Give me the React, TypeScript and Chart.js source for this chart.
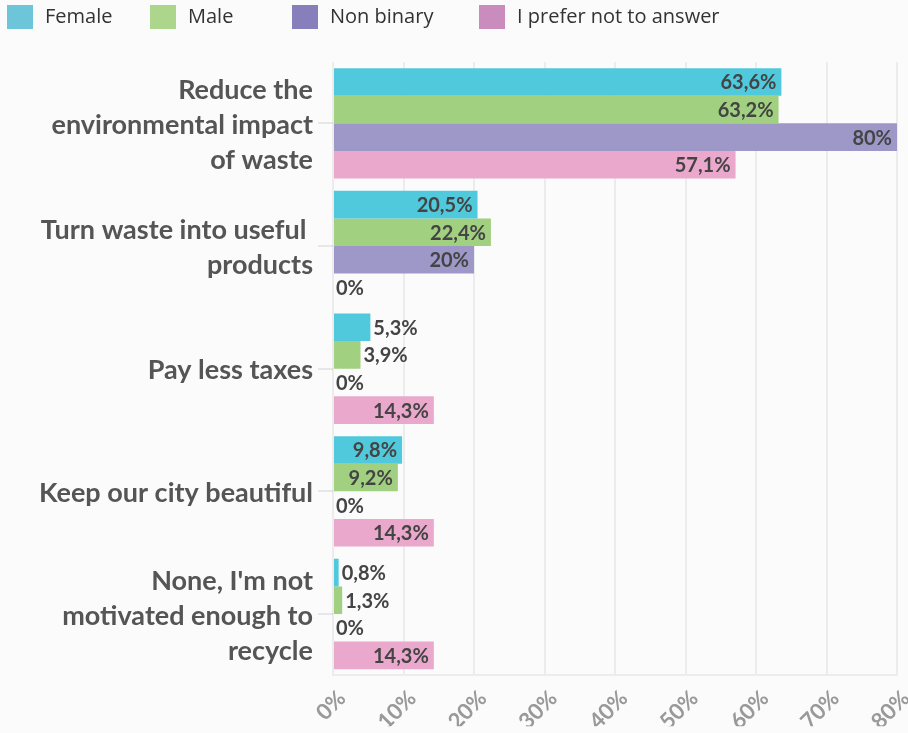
import React, { useEffect, useRef } from "react";
import { Chart, registerables } from "chart.js";

Chart.register(...registerables);

const categories: string[][] = [
  ["Reduce the", "environmental impact", "of waste"],
  ["Turn waste into useful ", "products"],
  ["Pay less taxes"],
  ["Keep our city beautiful"],
  ["None, I'm not", "motivated enough to", "recycle"],
];
const seriesNames = ["Female", "Male", "Non binary", "I prefer not to answer"];
const female = [63.6, 20.5, 5.3, 9.8, 0.8];
const male = [63.2, 22.4, 3.9, 9.2, 1.3];
const nonBinary = [80, 20, 0, 0, 0];
const preferNot = [57.1, 0, 14.3, 14.3, 14.3];
const barColors = ["rgb(80,201,221)", "rgb(160,208,128)", "rgb(158,152,200)", "rgb(234,168,204)"];
const legendColors = ["#6cc5d9", "#abd68b", "#877fbb", "#c98cbd"];
const xTicks = [0, 10, 20, 30, 40, 50, 60, 70, 80];

const FONT = "Lato, 'Liberation Sans', sans-serif";

const fmt = (v: number) => String(v).replace(".", ",") + "%";

const bgPlugin = {
  id: "bg",
  beforeDraw(chart: any) {
    const ctx = chart.ctx;
    ctx.save();
    ctx.fillStyle = "#fbfbfb";
    ctx.fillRect(0, 0, chart.width, chart.height);
    ctx.restore();
  },
};

const legendPlugin = {
  id: "customLegend",
  afterDraw(chart: any) {
    const ctx = chart.ctx;
    ctx.save();
    ctx.font = `20px 'Open Sans', sans-serif`;
    ctx.textBaseline = "middle";
    ctx.textAlign = "left";
    const boxX = [7, 150, 292, 479];
    chart.data.datasets.forEach((ds: any, i: number) => {
      ctx.fillStyle = legendColors[i];
      ctx.fillRect(boxX[i], 5, 26, 24);
      ctx.fillStyle = "#333";
      ctx.fillText(ds.label, boxX[i] + 38, 17);
    });
    ctx.restore();
  },
};

const labelPlugin = {
  id: "barLabels",
  afterDatasetsDraw(chart: any) {
    const ctx = chart.ctx;
    ctx.save();
    ctx.font = `bold 20px ${FONT}`;
    ctx.fillStyle = "#444";
    ctx.textBaseline = "middle";
    chart.data.datasets.forEach((ds: any, di: number) => {
      const meta = chart.getDatasetMeta(di);
      meta.data.forEach((bar: any, i: number) => {
        const v = ds.data[i];
        const txt = fmt(v);
        const w = ctx.measureText(txt).width;
        const barW = bar.x - bar.base;
        if (w + 10 < barW) {
          ctx.textAlign = "right";
          ctx.fillText(txt, bar.x - 5, bar.y + 1);
        } else {
          ctx.textAlign = "left";
          ctx.fillText(txt, bar.x + 3, bar.y + 1);
        }
      });
    });
    ctx.restore();
  },
};

export default function App() {
  const ref = useRef<HTMLCanvasElement>(null);
  useEffect(() => {
    document.body.style.margin = "0";
    const values = [female, male, nonBinary, preferNot];
    const chart = new Chart(ref.current!, {
      type: "bar",
      data: {
        labels: categories,
        datasets: values.map((d, i) => ({
          label: seriesNames[i],
          data: d,
          backgroundColor: barColors[i],
          borderWidth: 0,
          barPercentage: 1,
          categoryPercentage: 0.9,
        })),
      },
      options: {
        indexAxis: "y",
        animation: false,
        responsive: false,
        layout: { padding: { top: 62, right: 11, left: 0, bottom: 0 } },
        plugins: {
          legend: { display: false },
          tooltip: { enabled: false },
        },
        scales: {
          x: {
            min: 0,
            max: 80,
            afterBuildTicks: (s: any) => {
              s.ticks = xTicks.map((v) => ({ value: v }));
            },
            afterFit: (s: any) => {
              s.height = 51;
              s.paddingRight = 0;
              s.paddingLeft = 0;
            },
            ticks: {
              minRotation: 45,
              maxRotation: 45,
              color: "#999",
              font: { family: FONT, size: 22, weight: "bold" },
              callback: (v: any) => v + "%",
              padding: 10,
              labelOffset: 9,
            },
            grid: {
              color: "rgba(0,0,0,0.06)",
              lineWidth: 2,
              drawTicks: false,
            },
            border: { color: "rgba(0,0,0,0.06)", width: 2 },
          },
          y: {
            afterFit: (s: any) => {
              s.width = 333;
            },
            ticks: {
              color: "#555",
              font: { family: FONT, size: 27, weight: "bold", lineHeight: 1.3 },
              padding: 5,
              labelOffset: 2,
            },
            grid: {
              offset: false,
              drawOnChartArea: false,
              drawTicks: true,
              tickLength: 15,
              color: "rgba(0,0,0,0.08)",
              lineWidth: 2,
            },
            border: { display: false },
          },
        },
      },
      plugins: [bgPlugin, legendPlugin, labelPlugin],
    } as any);
    return () => chart.destroy();
  }, []);
  return <canvas ref={ref} width={908} height={733} style={{ display: "block" }} />;
}
